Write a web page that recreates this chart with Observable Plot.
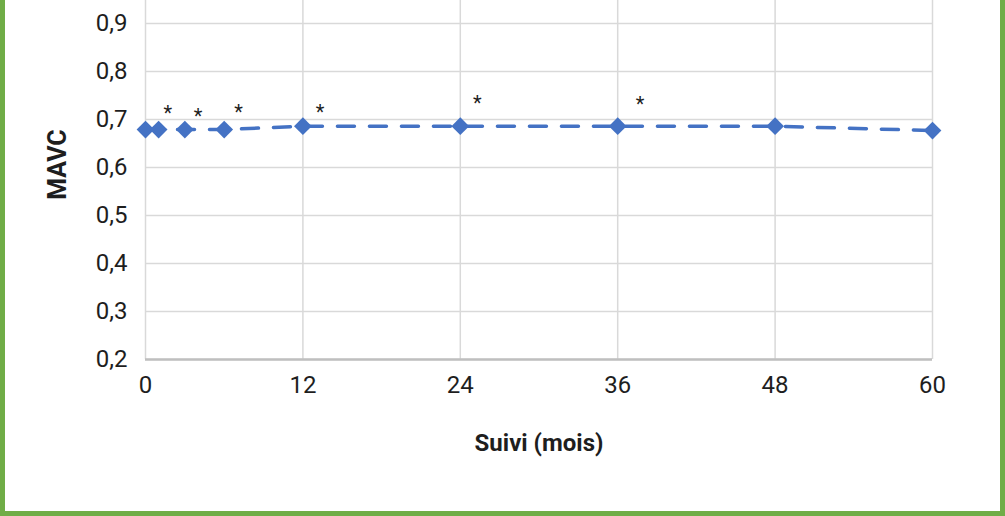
<!DOCTYPE html>
<html>
<head>
<meta charset="utf-8">
<script src="https://cdn.jsdelivr.net/npm/d3@7"></script>
<script src="https://cdn.jsdelivr.net/npm/@observablehq/plot@0.6"></script>
<style>
  html, body { margin: 0; padding: 0; background: #fff; }
  #wrap { position: relative; width: 1005px; height: 516px; overflow: hidden; background: #fff; }
  #chart { position: absolute; left: 0; top: -25px; }
  #border { position: absolute; left: 0; top: 0; width: 1005px; height: 516px; box-sizing: border-box;
            border: 5px solid #70ad47; border-top: none; pointer-events: none; }
</style>
</head>
<body>
<div id="wrap">
  <div id="chart"></div>
  <div id="border"></div>
</div>
<script>
// Data
const months = [0, 1, 3, 6, 12, 24, 36, 48, 60];
const mavc = [0.679, 0.679, 0.679, 0.679, 0.686, 0.686, 0.686, 0.686, 0.677];
// significance markers (*) as positioned in the figure
const starMonths = [1.7, 4.0, 7.1, 13.3, 25.3, 37.7];
const starValues = [0.713, 0.706, 0.714, 0.715, 0.734, 0.731];
const xTicks = [0, 12, 24, 36, 48, 60];
const yTicks = [0.2, 0.3, 0.4, 0.5, 0.6, 0.7, 0.8, 0.9];
const xLabel = "Suivi (mois)";
const yLabel = "MAVC";

const series = months.map((m, i) => ({month: m, value: mavc[i]}));
const stars = starMonths.map((m, i) => ({month: m, value: starValues[i]}));

const blue = "#4472c4";
const grid = "#d9d9d9";
const ink = "#1e1e1e";

const chart = Plot.plot({
  width: 1005,
  height: 541,
  marginLeft: 145,
  marginRight: 73,
  marginTop: 0,
  marginBottom: 157,
  style: {fontFamily: "Roboto, sans-serif", fontSize: "24px", color: ink, background: "transparent"},
  x: {domain: [0, 60]},
  y: {domain: [0.2, 1.0]},
  marks: [
    Plot.gridX(xTicks, {stroke: grid, strokeOpacity: 1, strokeWidth: 1.5}),
    Plot.gridY(yTicks, {stroke: grid, strokeOpacity: 1, strokeWidth: 1.5}),
    Plot.ruleY([0.2], {stroke: "#bfbfbf", strokeWidth: 2.5}),
    Plot.axisX(xTicks, {tickSize: 0, tickPadding: 16, fontSize: 24, label: null, fill: ink}),
    Plot.axisY(yTicks, {tickSize: 0, tickPadding: 18, fontSize: 24, label: null, fill: ink,
      tickFormat: d => d.toFixed(1).replace(".", ",")}),
    Plot.line(series, {x: "month", y: "value", stroke: blue, strokeWidth: 3.5, strokeDasharray: "17,15"}),
    Plot.dot(series, {x: "month", y: "value", symbol: "diamond2", r: 8, fill: blue, stroke: "none"}),
    Plot.text(stars, {x: "month", y: "value", text: () => "*", fontSize: 20, fill: ink, lineAnchor: "middle"}),
    Plot.text([xLabel], {frameAnchor: "bottom", dy: 84, lineAnchor: "middle", fontSize: 24, fontWeight: "bold", fill: ink}),
    Plot.text([yLabel], {frameAnchor: "left", dx: -88, dy: -3, rotate: -90, textAnchor: "middle", lineAnchor: "middle", fontSize: 25, fontWeight: "bold", fill: ink})
  ]
});
document.getElementById("chart").appendChild(chart);
</script>
</body>
</html>
